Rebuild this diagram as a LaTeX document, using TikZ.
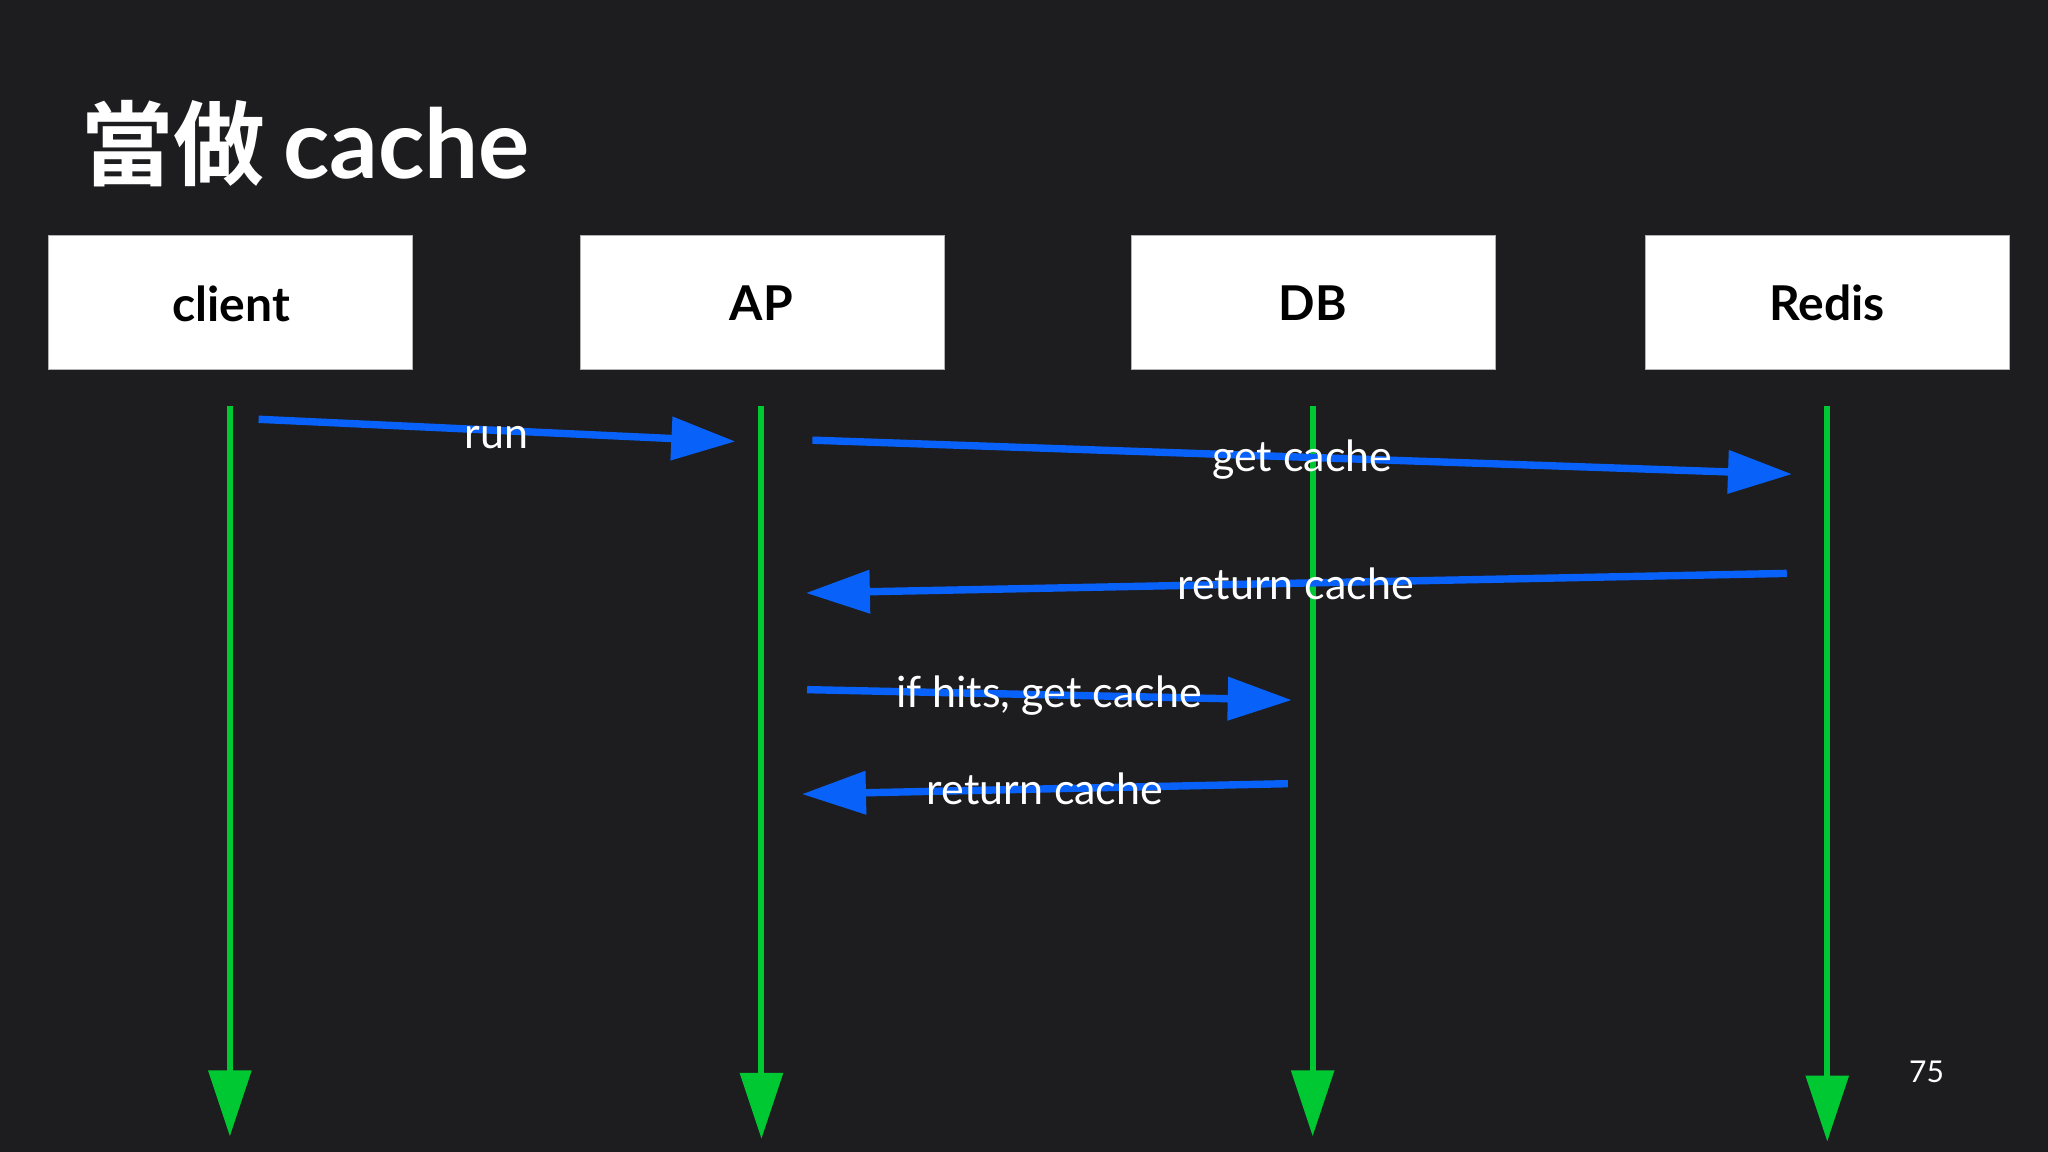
\documentclass[tikz,border=0pt]{standalone}
\usepackage{fontspec}
\setmainfont{Lato}
\newfontfamily\cjkb{Noto Sans CJK TC Bold}
\usetikzlibrary{arrows.meta}
\definecolor{bgc}{RGB}{29,29,31}
\definecolor{msgblue}{RGB}{8,98,250}
\definecolor{lifegreen}{RGB}{0,200,50}
\tikzset{
  actorbox/.style={fill=white, draw=gray!60, line width=0.4pt, minimum width=182pt, minimum height=67pt, inner sep=0pt},
  actorlabel/.style={anchor=base, text=black, font=\fontsize{24}{28}\selectfont\bfseries},
  lifeline/.style={draw=lifegreen, line width=3pt, -{Triangle[length=33pt,width=21pt]}},
  msg/.style={draw=msgblue, line width=3.7pt, -{Triangle[length=32pt,width=21pt]}},
  msglabel/.style={anchor=base, text=white, inner sep=0pt, font=\fontsize{21.5}{25}\selectfont},
}
\begin{document}
\begin{tikzpicture}[x=0.6531pt,y=-0.6531pt]
\useasboundingbox (0,0) rectangle (1568,882);
\fill[bgc] (0,0) rectangle (1568,882);

% title
\node[anchor=base west, text=white, inner sep=0pt] (title) at (62,137)
  {{\cjkb\fontsize{46}{50}\selectfont 當做}\hspace{9pt}{\fontsize{48}{52}\selectfont\bfseries cache}};

% actor boxes
\node[actorbox] (client) at (176.5,231.5) {};
\node[actorbox] (ap)     at (583.5,231.5) {};
\node[actorbox] (db)     at (1005.5,231.5) {};
\node[actorbox] (redis)  at (1399,231.5) {};
\node[actorlabel] (clientl) at (177,246) {client};
\node[actorlabel] (apl)     at (583,245) {AP};
\node[actorlabel] (dbl)     at (1005,245) {DB};
\node[actorlabel] (redisl)  at (1399,245) {Redis};

% lifelines
\coordinate (c0) at (176,311);  \coordinate (c1) at (176,870);
\coordinate (a0) at (583,311);  \coordinate (a1) at (583,872);
\coordinate (d0) at (1005,311); \coordinate (d1) at (1005,870);
\coordinate (r0) at (1399,311); \coordinate (r1) at (1399,874);
\draw[lifeline] (c0) -- (c1);
\draw[lifeline] (a0) -- (a1);
\draw[lifeline] (d0) -- (d1);
\draw[lifeline] (r0) -- (r1);

% messages
\coordinate (m1s) at (198,321);  \coordinate (m1e) at (563,338);
\coordinate (m2s) at (622,337);  \coordinate (m2e) at (1372,363);
\coordinate (m3s) at (1368,439); \coordinate (m3e) at (617,454);
\coordinate (m4s) at (618,528);  \coordinate (m4e) at (989,536);
\coordinate (m5s) at (986,600);  \coordinate (m5e) at (614,608);
\draw[msg] (m1s) -- (m1e);
\draw[msg] (m2s) -- (m2e);
\draw[msg] (m3s) -- (m3e);
\draw[msg] (m4s) -- (m4e);
\draw[msg] (m5s) -- (m5e);

\node[msglabel] (l1) at (380,343) {run};
\node[msglabel] (l2) at (997,361) {get cache};
\node[msglabel] (l3) at (992,459) {return cache};
\node[msglabel] (l4) at (803,542) {if hits, get cache};
\node[msglabel] (l5) at (800,616) {return cache};

% page number
\node[anchor=base, text=white, inner sep=0pt, font=\fontsize{15}{18}\selectfont] (pg) at (1475,829) {75};
\end{tikzpicture}
\end{document}
